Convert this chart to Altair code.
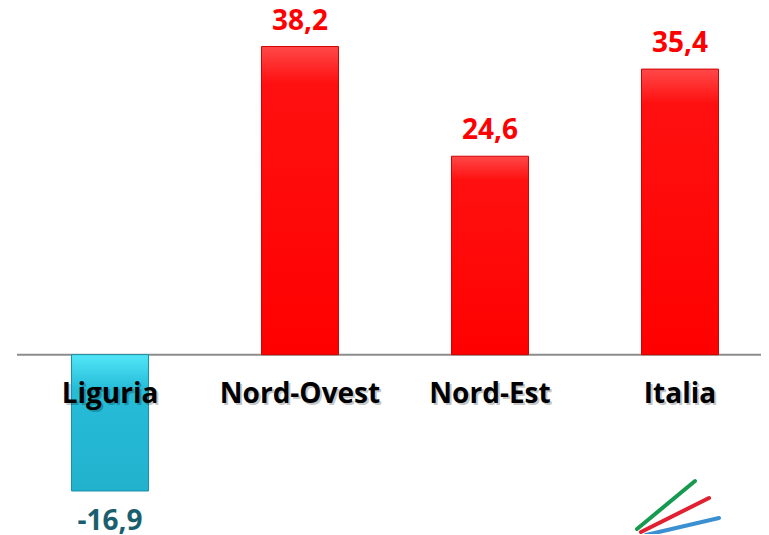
import altair as alt
import pandas as pd

categories = ["Liguria", "Nord-Ovest", "Nord-Est", "Italia"]
values = [-16.9, 38.2, 24.6, 35.4]
labels = ["-16,9", "38,2", "24,6", "35,4"]

df = pd.DataFrame({"cat": categories, "val": values, "lab": labels})

FONT = "Open Sans"

x_enc = alt.X("cat:N", sort=categories, axis=None,
              scale=alt.Scale(range=[0, 760], paddingInner=0.595, paddingOuter=0.2975))
y_scale = alt.Scale(domain=[-20, 40], nice=False, zero=True)

base = alt.Chart(df)

red_grad = alt.Gradient(
    gradient="linear", x1=0, x2=0, y1=0, y2=1,
    stops=[alt.GradientStop(color="#FF4848", offset=0),
           alt.GradientStop(color="#FF1010", offset=0.12),
           alt.GradientStop(color="#FF0000", offset=1)])
cyan_grad = alt.Gradient(
    gradient="linear", x1=0, x2=0, y1=0, y2=1,
    stops=[alt.GradientStop(color="#52E6F8", offset=0),
           alt.GradientStop(color="#26BCD8", offset=0.25),
           alt.GradientStop(color="#22B2CE", offset=1)])

rule = base.transform_filter(alt.datum.cat == "Liguria").transform_calculate(zero="0").mark_rule(
    color="#8C8C8C", strokeWidth=2).encode(
    y=alt.Y("zero:Q", scale=y_scale, axis=None),
    x=alt.value(2), x2=alt.value(770))

pos_bars = base.transform_filter(alt.datum.val > 0).mark_bar(
    color=red_grad, stroke="#D00000", strokeWidth=1).encode(
    x=x_enc, y=alt.Y("val:Q", scale=y_scale, axis=None), y2=alt.datum(0))

neg_bars = base.transform_filter(alt.datum.val < 0).mark_bar(
    color=cyan_grad, stroke="#1890A8", strokeWidth=1).encode(
    x=x_enc, y=alt.Y("val:Q", scale=y_scale, axis=None), y2=alt.datum(0))

cat_shadow = base.transform_calculate(zero="0").mark_text(
    font=FONT, fontSize=28, fontWeight="bold", color="#000000", opacity=0.22,
    baseline="alphabetic", dx=2, dy=50).encode(
    x=x_enc, y=alt.Y("zero:Q", scale=y_scale, axis=None), text="cat:N")

cat_text = base.transform_calculate(zero="0").mark_text(
    font=FONT, fontSize=28, fontWeight="bold", color="#000000",
    baseline="alphabetic", dy=48).encode(
    x=x_enc, y=alt.Y("zero:Q", scale=y_scale, axis=None), text="cat:N")

pos_lab = base.transform_filter(alt.datum.val > 0).mark_text(
    font=FONT, fontSize=28, fontWeight="bold", color="#FF0000",
    baseline="alphabetic", dy=-17).encode(
    x=x_enc, y=alt.Y("val:Q", scale=y_scale, axis=None), text="lab:N")

neg_lab = base.transform_filter(alt.datum.val < 0).mark_text(
    font=FONT, fontSize=28, fontWeight="bold", color="#1B5F6F",
    baseline="alphabetic", dy=39).encode(
    x=x_enc, y=alt.Y("val:Q", scale=y_scale, axis=None), text="lab:N")

one = base.transform_filter(alt.datum.cat == "Liguria")
logo_g = one.mark_rule(color="#169A50", strokeWidth=4, strokeCap="round").encode(
    x=alt.value(622), x2=alt.value(680), y=alt.value(497), y2=alt.value(449))
logo_r = one.mark_rule(color="#E2202F", strokeWidth=4, strokeCap="round").encode(
    x=alt.value(626), x2=alt.value(694), y=alt.value(500), y2=alt.value(466))
logo_b = one.mark_rule(color="#3A90D0", strokeWidth=4, strokeCap="round").encode(
    x=alt.value(631), x2=alt.value(704), y=alt.value(503), y2=alt.value(486))

chart = alt.layer(
    rule, pos_bars, neg_bars, cat_shadow, cat_text, pos_lab, neg_lab,
    logo_g, logo_r, logo_b
).properties(
    width=746, height=484,
    padding={"left": 7, "top": 24, "right": 0, "bottom": 18},
    autosize=alt.AutoSizeParams(type="none")
).configure_view(stroke=None)

chart.save("out.html", embed_options={"renderer": "svg", "actions": False})
